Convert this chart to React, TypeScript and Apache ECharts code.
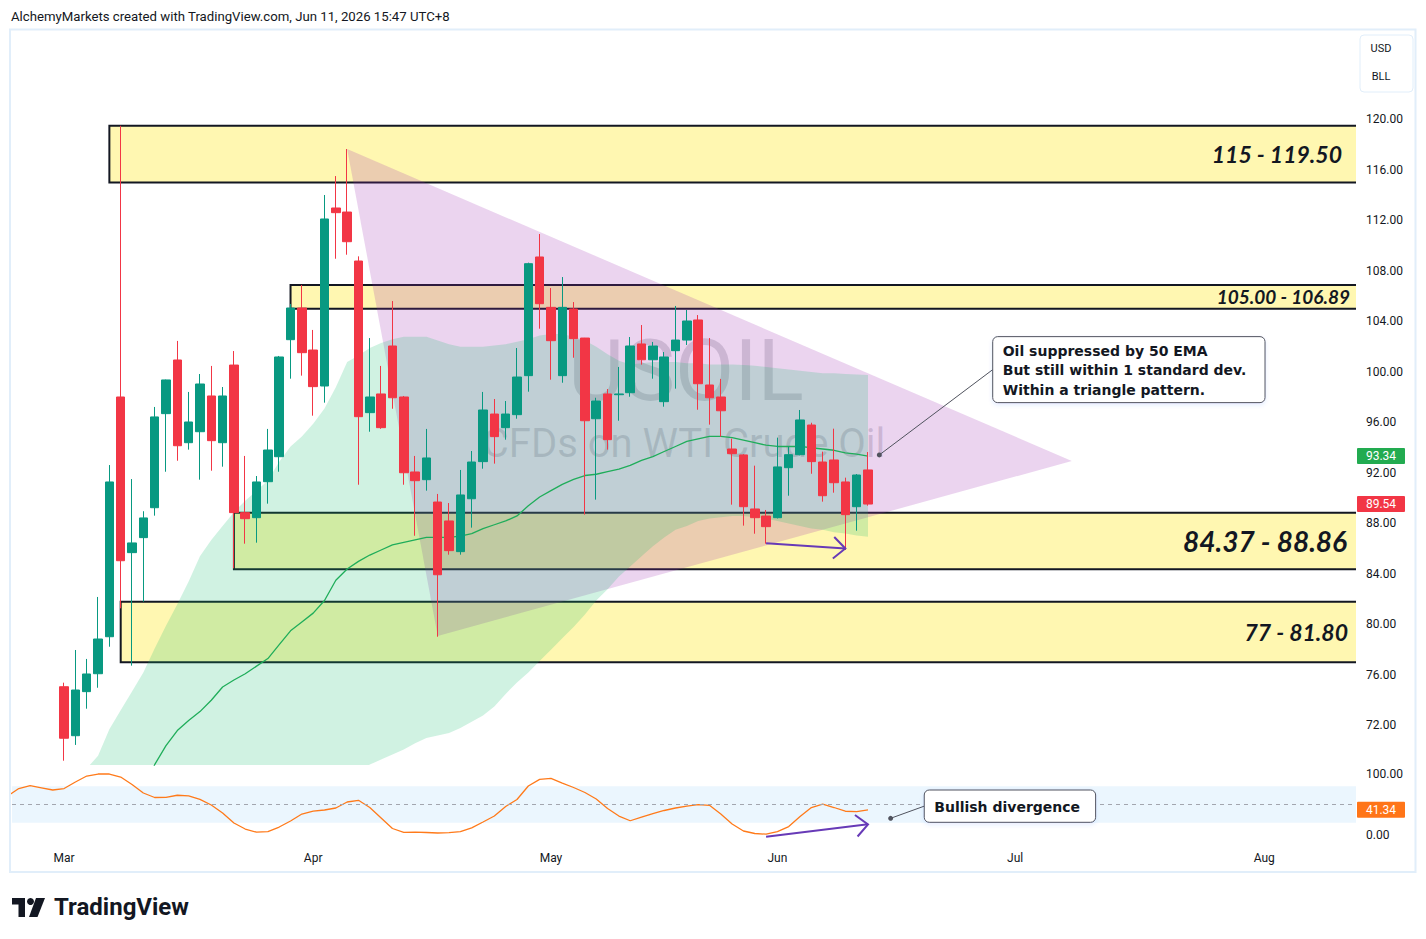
import React, { useEffect, useRef } from "react";
import * as echarts from "echarts";

// ---------- axis / calendar ----------
const FIRST_DAY = "2026-02-23";
const LAST_DAY = "2026-08-14";
const HOLIDAYS = ["2026-04-03", "2026-05-25", "2026-06-19", "2026-07-03"];
const MONTH_NAMES = ["Jan", "Feb", "Mar", "Apr", "May", "Jun", "Jul", "Aug", "Sep", "Oct", "Nov", "Dec"];
const PRICE_TICKS = [72, 76, 80, 84, 88, 92, 96, 100, 104, 108, 112, 116, 120];
const OSC_TICKS = [0, 100];

// ---------- candles: [open, close, low, high] ----------
const CANDLE_START = "2026-03-02";
const OHLC: number[][] = [
  [75.07, 70.99, 69.21, 75.39], [71.19, 74.81, 70.46, 77.98], [74.68, 76.08, 73.33, 77.27],
  [76.1, 78.85, 74.99, 82.18], [79.03, 91.29, 78.24, 92.63], [98.02, 85.05, 81.28, 119.5],
  [85.69, 86.46, 76.74, 91.52], [86.88, 88.44, 81.81, 88.97], [89.25, 96.44, 88.62, 97.23],
  [96.7, 99.37, 92.1, 99.4], [100.95, 94.16, 92.97, 102.46], [94.4, 96.04, 93.85, 98.42],
  [95.27, 99.05, 91.47, 99.84], [98.1, 94.56, 92.18, 100.48], [94.4, 98.1, 92.5, 98.81],
  [100.55, 88.86, 84.45, 101.66], [88.86, 88.38, 86.4, 93.35], [88.46, 91.29, 86.48, 91.76],
  [91.31, 93.82, 89.57, 95.49], [93.29, 101.19, 92.1, 101.27], [102.56, 105.07, 99.47, 105.39],
  [105.07, 101.53, 99.71, 106.89], [101.74, 98.84, 96.54, 103.33], [98.89, 112.12, 97.57, 114.02],
  [112.99, 112.62, 108.97, 115.52], [112.67, 110.32, 109.29, 117.66], [108.79, 96.46, 91.07, 109.16],
  [96.78, 98.02, 95.27, 102.69], [98.26, 95.59, 95.5, 100.48], [102.06, 97.96, 97.09, 105.62],
  [98.02, 92.02, 91.07, 98.1], [92.08, 91.39, 87.03, 93.35], [91.47, 93.19, 90.6, 95.49],
  [89.7, 83.94, 79.03, 90.34], [88.2, 85.85, 85.53, 89.62], [85.77, 90.26, 85.53, 92.24],
  [89.96, 92.87, 87.67, 93.74], [92.9, 96.99, 92.34, 98.42], [96.67, 94.88, 92.74, 97.86],
  [95.59, 96.67, 94.64, 97.7], [96.62, 99.6, 96.3, 101.9], [99.71, 108.58, 98.44, 108.66],
  [109.11, 105.41, 103.43, 110.93], [105.12, 102.48, 99.39, 106.65], [99.71, 105.12, 99.15, 107.52],
  [104.99, 102.64, 101.13, 105.54], [102.69, 96.14, 88.7, 102.7], [96.3, 97.7, 89.89, 97.96],
  [98.26, 94.64, 93.85, 98.65], [98.2, 98.26, 96.14, 100.4], [98.36, 102.06, 98.04, 102.77],
  [102.22, 100.97, 100.58, 103.72], [100.97, 102.06, 99.47, 102.38], [97.65, 101.19, 97.25, 101.58],
  [101.69, 102.53, 98.68, 105.23], [102.53, 104.04, 102.14, 104.91], [104.12, 99.07, 97.01, 104.51],
  [98.97, 97.96, 95.83, 102.69], [98.02, 96.93, 94.88, 99.45], [93.9, 93.53, 89.49, 94.72],
  [93.43, 89.33, 87.83, 93.5], [89.15, 88.46, 87.19, 92.58], [88.59, 87.75, 86.4, 89.07],
  [88.46, 92.48, 88.4, 94.8], [92.42, 93.45, 90.2, 94.08], [93.45, 96.2, 93.4, 96.99],
  [95.8, 92.9, 91.94, 95.98], [92.87, 90.2, 89.73, 93.69], [93.03, 91.23, 90.44, 95.51],
  [91.29, 88.7, 85.9, 91.63], [89.33, 91.84, 87.43, 91.92], [92.24, 89.54, 89.41, 93.66],
];
const LAST_PRICE = 89.54;

// ---------- 50 EMA ----------
const EMA_START = "2026-03-11";
const EMA50 = [
  66.5, 68.9, 70.4, 71.6, 72.4, 73.1, 74.0, 75.05, 75.6, 76.1, 76.7, 77.3, 78.4, 79.5, 80.2, 80.9,
  81.9, 83.5, 84.4, 85.0, 85.5, 85.9, 86.3, 86.5, 86.7, 86.9, 86.9, 86.9, 87.0, 87.2, 87.6, 87.9,
  88.2, 88.6, 89.4, 90.1, 90.6, 91.1, 91.5, 91.8, 91.9, 92.1, 92.3, 92.6, 93.0, 93.3, 93.7, 94.1,
  94.5, 94.7, 94.9, 94.9, 94.8, 94.6, 94.4, 94.2, 94.1, 94.1, 94.1, 94.0, 93.9, 93.8, 93.6, 93.5, 93.34,
];

// ---------- 1 standard deviation band ----------
const BAND_START = "2026-03-04";
const BAND_UPPER = [
  68.6, 69.6, 71.7, 73.2, 74.7, 76.2, 78.1, 79.9, 81.6, 83.4, 85.4, 86.7, 87.8, 88.9, 89.8, 90.6,
  91.4, 92.9, 94.1, 94.9, 95.9, 97.1, 98.8, 100.8, 101.3, 101.9, 102.3, 102.6, 102.8, 102.8, 102.8,
  102.5, 102.2, 102.0, 102.0, 102.0, 102.1, 102.2, 102.4, 102.6, 102.9, 103.0, 103.0, 102.8, 102.5,
  102.0, 101.4, 100.9, 100.6, 100.7, 100.8, 100.8, 100.8, 100.7, 100.7, 100.6, 100.6, 100.6, 100.55,
  100.5, 100.4, 100.3, 100.2, 100.1, 100.0, 99.9, 99.9, 99.85, 99.8, 99.76,
];
const BAND_LOWER = [
  56.5, 57, 57.5, 58, 58.5, 59, 59.7, 60.5, 61, 61.2, 61.1, 61.2, 62, 62.2, 62.4, 62.6, 63, 63.7,
  64.6, 65.5, 66.1, 66.6, 67, 67.6, 68.4, 68.9, 69.3, 69.7, 70.1, 70.6, 71.0, 71.2, 71.4, 71.8,
  72.3, 72.8, 73.5, 74.5, 75.4, 76.2, 77.1, 78.0, 78.9, 79.8, 80.8, 81.9, 82.8, 83.8, 84.6, 85.4,
  86.2, 86.9, 87.5, 87.8, 88.2, 88.4, 88.5, 88.6, 88.6, 88.5, 88.4, 88.2, 88.0, 87.8, 87.6, 87.5,
  87.3, 87.2, 87.05, 86.95,
];

// ---------- oscillator (Stoch RSI) ----------
const OSC_START = "2026-02-23";
const STOCH_RSI = [
  64, 76.2, 80.8, 77.4, 73.8, 76.2, 86.9, 96.7, 100, 100, 95.1, 82.8, 68.9, 61.5, 61.8, 65.2, 64.3,
  58.5, 49.2, 36.1, 19.7, 9.8, 4.6, 5.7, 13.1, 23, 34.4, 39.3, 41, 44.3, 54.1, 56.9, 45.1, 27.9,
  10.7, 4.4, 4.9, 4.1, 3.3, 3.8, 5.4, 11.8, 21.3, 31.1, 46.7, 58.2, 80.3, 91.3, 93, 85.2, 77.9,
  69.7, 59, 43.4, 31.1, 23.4, 29.5, 35.2, 40.2, 44.3, 47.5, 49.7, 48.7, 34.4, 18, 6.6, 2.5, 1.3,
  5.7, 13.9, 30.3, 45.1, 50.8, 45.1, 39, 38.2, 41.34,
];
const OSC_LEVELS = [20, 50, 80];

// ---------- drawings ----------
const ZONE_START = ["2026-03-06", "2026-03-30", "2026-03-23", "2026-03-09"];
const ZONE_LOW = [115, 105, 84.37, 77];
const ZONE_HIGH = [119.5, 106.89, 88.86, 81.8];
const ZONE_LABELS = ["115 - 119.50", "105.00 - 106.89", "84.37 - 88.86", "77 - 81.80"];

const TRIANGLE_DATES = ["2026-04-07", "2026-07-09", "2026-04-17"];
const TRIANGLE_PRICES = [117.66, 92.95, 79.09];

const PRICE_ARROW_DATES = ["2026-05-29", "2026-06-09"];
const PRICE_ARROW_VALUES = [86.43, 86.02];
const OSC_ARROW_DATES = ["2026-05-29", "2026-06-11"];
const OSC_ARROW_VALUES = [-2.8, 17.5];

const CALLOUT1_DATE = "2026-06-12";
const CALLOUT1_VALUE = 93.43;
const CALLOUT1_LINES = ["Oil suppressed by 50 EMA", "But still within 1 standard dev.", "Within a triangle pattern."];
const CALLOUT2_DATE = "2026-06-15";
const CALLOUT2_VALUE = 27.4;
const CALLOUT2_LINES = ["Bullish divergence"];

const HEADER = "AlchemyMarkets created with TradingView.com, Jun 11, 2026 15:47 UTC+8";
const SYMBOL = "USOIL";
const SYMBOL_DESC = "CFDs on WTI Crude Oil";

// ---------- helpers ----------
function buildTradingDays(first: string, last: string, holidays: string[]): string[] {
  const out: string[] = [];
  const d = new Date(first + "T00:00:00Z");
  const end = new Date(last + "T00:00:00Z");
  while (d <= end) {
    const wd = d.getUTCDay();
    const s = d.toISOString().slice(0, 10);
    if (wd !== 0 && wd !== 6 && holidays.indexOf(s) < 0) out.push(s);
    d.setUTCDate(d.getUTCDate() + 1);
  }
  return out;
}
const DATES = buildTradingDays(FIRST_DAY, LAST_DAY, HOLIDAYS);
const di = (s: string) => DATES.indexOf(s);
const MONTH_TICKS: number[] = [];
DATES.forEach((d, i) => {
  if (i > 0 && d.slice(5, 7) !== DATES[i - 1].slice(5, 7)) MONTH_TICKS.push(i);
});
const X_MIN = 0.4;
const X_MAX = 119.1;

const TEXT = "#131722";
const UP = "#089981";
const DOWN = "#f23645";
const EMA_COLOR = "#1fad5a";
const OSC_COLOR = "#ff7a1a";
const ARROW_COLOR = "#673ab7";
const FONT = "Roboto, 'Noto Sans', sans-serif";
const LABEL_FONT = "Lato, 'Noto Sans', sans-serif";
const NOTE_FONT = "'DejaVu Sans', 'Noto Sans', sans-serif";

function zoneStyle(i: number) {
  const sizes = [23, 19, 28, 23];
  const pads = [14, 6, 9, 8];
  return { size: sizes[i], pad: pads[i] };
}

function renderZones(params: any, api: any) {
  const i = params.dataIndex;
  const cs = params.coordSys;
  const a = api.coord([di(ZONE_START[i]), ZONE_HIGH[i]]);
  const b = api.coord([X_MAX + 3, ZONE_LOW[i]]);
  const st = zoneStyle(i);
  return {
    type: "group",
    children: [
      {
        type: "rect",
        shape: { x: a[0], y: a[1], width: b[0] - a[0], height: b[1] - a[1] },
        style: { fill: "rgba(255,235,59,0.4)", stroke: "#131722", lineWidth: 2 },
      },
      {
        type: "text",
        x: cs.x + cs.width - st.pad,
        y: (a[1] + b[1]) / 2,
        style: {
          text: ZONE_LABELS[i],
          align: "right",
          verticalAlign: "middle",
          fill: TEXT,
          fontSize: st.size,
          fontWeight: "bold",
          fontStyle: "italic",
          fontFamily: LABEL_FONT,
        },
      },
    ],
  };
}

function renderTriangle(_p: any, api: any) {
  const pts = TRIANGLE_DATES.map((d, k) => api.coord([di(d), TRIANGLE_PRICES[k]]));
  return { type: "polygon", shape: { points: pts }, style: { fill: "rgba(156,39,176,0.2)" } };
}

function renderBand(_p: any, api: any) {
  const s = di(BAND_START);
  const up = BAND_UPPER.map((v, k) => api.coord([s + k, v]));
  const lo = BAND_LOWER.map((v, k) => api.coord([s + k, v])).reverse();
  return { type: "polygon", shape: { points: up.concat(lo) }, style: { fill: "rgba(20,190,110,0.2)" } };
}

function arrow(api: any, dates: string[], values: number[]) {
  const a = api.coord([di(dates[0]), values[0]]);
  const b = api.coord([di(dates[1]), values[1]]);
  const ang = Math.atan2(b[1] - a[1], b[0] - a[0]);
  const L = 16;
  const h = 0.74;
  const p1 = [b[0] - L * Math.cos(ang - h), b[1] - L * Math.sin(ang - h)];
  const p2 = [b[0] - L * Math.cos(ang + h), b[1] - L * Math.sin(ang + h)];
  return {
    type: "group",
    children: [
      { type: "line", shape: { x1: a[0], y1: a[1], x2: b[0], y2: b[1] }, style: { stroke: ARROW_COLOR, lineWidth: 2 } },
      { type: "polyline", shape: { points: [p1, b, p2] }, style: { stroke: ARROW_COLOR, lineWidth: 2, fill: null } },
    ],
  };
}

function callout(api: any, date: string, value: number, dx: number, dy: number, w: number, h: number, lines: string[], size: number, lh: number) {
  const p = api.coord([di(date), value]);
  const bx = p[0] + dx;
  const by = p[1] + dy;
  const n = lines.length;
  const textEls = lines.map((t, k) => ({
    type: "text",
    x: bx + 10,
    y: by + h / 2 + (k - (n - 1) / 2) * lh + 0.5,
    style: {
      text: t,
      align: "left",
      verticalAlign: "middle",
      fill: TEXT,
      fontSize: size,
      fontWeight: "bold",
      fontFamily: NOTE_FONT,
    },
  }));
  return {
    type: "group",
    children: [
      { type: "line", shape: { x1: p[0], y1: p[1], x2: bx, y2: by + h / 2 }, style: { stroke: "#50535e", lineWidth: 1 } },
      { type: "circle", shape: { cx: p[0], cy: p[1], r: 2.5 }, style: { fill: "#50535e" } },
      {
        type: "rect",
        shape: { x: bx, y: by, width: w, height: h, r: 5 },
        style: { fill: "#ffffff", stroke: "#50535e", lineWidth: 1, shadowBlur: 4, shadowOffsetY: 2, shadowColor: "rgba(41,98,255,0.12)" },
      },
      ...textEls,
    ],
  };
}

function buildOption(): any {
  const candleStart = di(CANDLE_START);
  const emaStart = di(EMA_START);
  const oscStart = di(OSC_START);
  return {
    animation: false,
    backgroundColor: "#ffffff",
    grid: [
      { left: 12, right: 70, top: 31, height: 734 },
      { left: 12, right: 70, top: 767, height: 79 },
    ],
    xAxis: [
      {
        type: "value", gridIndex: 0, min: X_MIN, max: X_MAX,
        axisLine: { show: false }, axisTick: { show: false }, axisLabel: { show: false }, splitLine: { show: false },
      },
      {
        type: "value", gridIndex: 1, min: X_MIN, max: X_MAX,
        axisLine: { show: false }, axisTick: { show: false }, splitLine: { show: false },
        axisLabel: {
          customValues: MONTH_TICKS,
          formatter: (v: number) => MONTH_NAMES[parseInt(DATES[Math.round(v)].slice(5, 7), 10) - 1],
          color: TEXT, fontSize: 12, margin: 6, fontFamily: FONT,
        },
      },
    ],
    yAxis: [
      {
        type: "value", gridIndex: 0, position: "right", min: 68.87, max: 127.01,
        axisLine: { show: false }, axisTick: { show: false }, splitLine: { show: false },
        axisLabel: { customValues: PRICE_TICKS, formatter: (v: number) => v.toFixed(2), color: TEXT, fontSize: 12, margin: 10, fontFamily: FONT },
      },
      {
        type: "value", gridIndex: 1, position: "right", min: -18, max: 111.5,
        axisLine: { show: false }, axisTick: { show: false }, splitLine: { show: false },
        axisLabel: { customValues: OSC_TICKS, formatter: (v: number) => v.toFixed(2), color: TEXT, fontSize: 12, margin: 10, fontFamily: FONT },
      },
    ],
    series: [
      {
        type: "custom", name: "zones", xAxisIndex: 0, yAxisIndex: 0, z: 1, clip: true, silent: true,
        data: ZONE_LOW.map((v, i) => [di(ZONE_START[i]), v]),
        renderItem: renderZones,
      },
      {
        type: "custom", name: "triangle", xAxisIndex: 0, yAxisIndex: 0, z: 2, clip: true, silent: true,
        data: [[di(TRIANGLE_DATES[0]), TRIANGLE_PRICES[0]]],
        renderItem: renderTriangle,
      },
      {
        type: "custom", name: "band", xAxisIndex: 0, yAxisIndex: 0, z: 3, clip: true, silent: true,
        data: [[di(BAND_START), BAND_UPPER[0]]],
        renderItem: renderBand,
      },
      {
        type: "line", name: "EMA 50", xAxisIndex: 0, yAxisIndex: 0, z: 4, clip: true, silent: true,
        showSymbol: false, symbol: "none",
        lineStyle: { color: EMA_COLOR, width: 1.3 },
        data: EMA50.map((v, k) => [emaStart + k, v]),
      },
      {
        type: "candlestick", name: "USOIL", xAxisIndex: 0, yAxisIndex: 0, z: 5, clip: true, silent: true,
        barWidth: 9,
        dimensions: ["x", "open", "close", "low", "high"],
        encode: { x: 0, y: [1, 2, 3, 4] },
        itemStyle: { color: UP, color0: DOWN, borderColor: UP, borderColor0: DOWN, borderWidth: 1 },
        data: OHLC.map((o, k) => [candleStart + k, o[0], o[1], o[2], o[3]]),
      },
      {
        type: "custom", name: "price arrow", xAxisIndex: 0, yAxisIndex: 0, z: 6, clip: false, silent: true,
        data: [[di(PRICE_ARROW_DATES[0]), PRICE_ARROW_VALUES[0]]],
        renderItem: (_p: any, api: any) => arrow(api, PRICE_ARROW_DATES, PRICE_ARROW_VALUES),
      },
      {
        type: "custom", name: "callout 1", xAxisIndex: 0, yAxisIndex: 0, z: 7, clip: false, silent: true,
        data: [[di(CALLOUT1_DATE), CALLOUT1_VALUE]],
        renderItem: (_p: any, api: any) =>
          callout(api, CALLOUT1_DATE, CALLOUT1_VALUE, 113.4, -118.3, 272.3, 66, CALLOUT1_LINES, 14, 19.5),
      },
      {
        type: "line", name: "Stoch RSI", xAxisIndex: 1, yAxisIndex: 1, z: 4, clip: true, silent: true,
        showSymbol: false, symbol: "none",
        lineStyle: { color: OSC_COLOR, width: 1.3 },
        data: STOCH_RSI.map((v, k) => [oscStart + k, v]),
        markArea: {
          silent: true,
          itemStyle: { color: "rgba(33,150,243,0.09)" },
          data: [[{ yAxis: OSC_LEVELS[0] }, { yAxis: OSC_LEVELS[2] }]],
        },
        markLine: {
          silent: true, symbol: "none",
          label: { show: false },
          lineStyle: { color: "#a3a6af", type: [4, 4], width: 1 },
          data: [{ yAxis: OSC_LEVELS[1] }],
        },
      },
      {
        type: "custom", name: "osc arrow", xAxisIndex: 1, yAxisIndex: 1, z: 6, clip: false, silent: true,
        data: [[di(OSC_ARROW_DATES[0]), OSC_ARROW_VALUES[0]]],
        renderItem: (_p: any, api: any) => arrow(api, OSC_ARROW_DATES, OSC_ARROW_VALUES),
      },
      {
        type: "custom", name: "callout 2", xAxisIndex: 1, yAxisIndex: 1, z: 7, clip: false, silent: true,
        data: [[di(CALLOUT2_DATE), CALLOUT2_VALUE]],
        renderItem: (_p: any, api: any) =>
          callout(api, CALLOUT2_DATE, CALLOUT2_VALUE, 33.6, -28.3, 171.4, 32.3, CALLOUT2_LINES, 14, 20),
      },
    ],
  };
}

function tag(id: string, y: number, text: string, bg: string) {
  return {
    type: "group",
    id,
    z: 20,
    children: [
      { type: "rect", shape: { x: 1357, y: y - 8, width: 48, height: 16, r: 1 }, style: { fill: bg } },
      {
        type: "text", x: 1381, y: y,
        style: { text, align: "center", verticalAlign: "middle", fill: "#ffffff", fontSize: 12, fontFamily: FONT },
      },
    ],
  };
}

function buildGraphics(chart: any): any[] {
  const yLast = chart.convertToPixel({ yAxisIndex: 0 }, LAST_PRICE);
  const yEma = chart.convertToPixel({ yAxisIndex: 0 }, EMA50[EMA50.length - 1]);
  const yOsc = chart.convertToPixel({ yAxisIndex: 1 }, STOCH_RSI[STOCH_RSI.length - 1]);
  return [
    {
      type: "rect", id: "frame", z: 20, silent: true,
      shape: { x: 10, y: 29.5, width: 1405.5, height: 842.5 },
      style: { fill: null, stroke: "#e1eefa", lineWidth: 2 },
    },
    {
      type: "text", id: "header", z: 20, x: 11, y: 16,
      style: { text: HEADER, align: "left", verticalAlign: "middle", fill: TEXT, fontSize: 13.2, fontFamily: FONT },
    },
    {
      type: "text", id: "wm1", z: 0, x: 686, y: 370,
      style: { text: SYMBOL, align: "center", verticalAlign: "middle", fill: "rgba(120,123,134,0.28)", fontSize: 86, fontFamily: FONT },
    },
    {
      type: "text", id: "wm2", z: 0, x: 684, y: 443,
      style: { text: SYMBOL_DESC, align: "center", verticalAlign: "middle", fill: "rgba(120,123,134,0.28)", fontSize: 40, fontFamily: FONT },
    },
    {
      type: "rect", id: "unitbox", z: 20,
      shape: { x: 1360, y: 35, width: 53, height: 57, r: 4 },
      style: { fill: "#ffffff", stroke: "#e1eefa", lineWidth: 1 },
    },
    {
      type: "text", id: "usd", z: 21, x: 1381, y: 48,
      style: { text: "USD", align: "center", verticalAlign: "middle", fill: TEXT, fontSize: 11, fontFamily: FONT },
    },
    {
      type: "text", id: "bll", z: 21, x: 1381, y: 76,
      style: { text: "BLL", align: "center", verticalAlign: "middle", fill: TEXT, fontSize: 11, fontFamily: FONT },
    },
    tag("tagEma", yEma, EMA50[EMA50.length - 1].toFixed(2), "#22ab50"),
    tag("tagLast", yLast, LAST_PRICE.toFixed(2), DOWN),
    tag("tagOsc", yOsc, STOCH_RSI[STOCH_RSI.length - 1].toFixed(2), "#ff7518"),
    {
      type: "polygon", id: "logo1", z: 20,
      shape: { points: [[12, 898], [25, 898], [25, 917], [18.5, 917], [18.5, 904.5], [12, 904.5]] },
      style: { fill: TEXT },
    },
    { type: "circle", id: "logo2", z: 20, shape: { cx: 30.5, cy: 901.5, r: 3.5 }, style: { fill: TEXT } },
    {
      type: "polygon", id: "logo3", z: 20,
      shape: { points: [[36, 898], [45, 898], [37.5, 917], [29, 917]] },
      style: { fill: TEXT },
    },
    {
      type: "text", id: "logotext", z: 20, x: 54, y: 907,
      style: { text: "TradingView", align: "left", verticalAlign: "middle", fill: TEXT, fontSize: 24, fontWeight: 700, fontFamily: FONT },
    },
  ];
}

export default function App() {
  const ref = useRef<HTMLDivElement>(null);
  useEffect(() => {
    if (!ref.current) return;
    const chart = echarts.init(ref.current, null, { renderer: "svg" });
    chart.setOption(buildOption());
    chart.setOption({ graphic: buildGraphics(chart) });
    return () => chart.dispose();
  }, []);
  return (
    <div
      ref={ref}
      style={{ position: "fixed", left: 0, top: 0, width: 1426, height: 939, background: "#ffffff" }}
    />
  );
}
